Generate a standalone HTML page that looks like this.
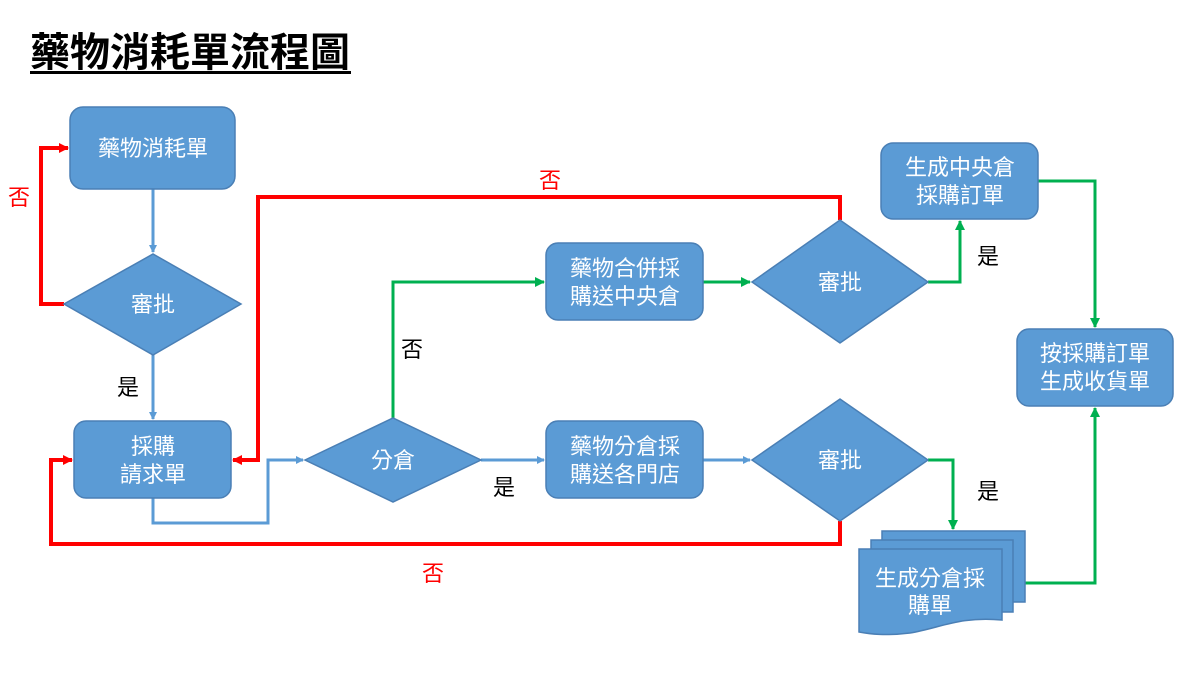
<!DOCTYPE html>
<html><head><meta charset="utf-8"><style>
body{margin:0;background:#fff}
svg text{font-family:"Liberation Sans","Noto Sans CJK TC",sans-serif}
</style></head><body>
<svg width="1200" height="679" viewBox="0 0 1200 679" xmlns="http://www.w3.org/2000/svg">
<defs>
<marker id="ab" markerWidth="8" markerHeight="8" refX="7" refY="4" orient="auto" markerUnits="userSpaceOnUse" viewBox="0 0 8 8"><path d="M0,0 L8,4 L0,8z" fill="#5b9bd5"/></marker>
<marker id="ar" markerWidth="10" markerHeight="10" refX="9" refY="5" orient="auto" markerUnits="userSpaceOnUse" viewBox="0 0 10 10"><path d="M0,0 L10,5 L0,10z" fill="#ff0000"/></marker>
<marker id="ag" markerWidth="10" markerHeight="10" refX="9" refY="5" orient="auto" markerUnits="userSpaceOnUse" viewBox="0 0 10 10"><path d="M0,0 L10,5 L0,10z" fill="#00b050"/></marker>
</defs>
<text x="30" y="66" font-size="40" font-weight="bold" fill="#000">藥物消耗單流程圖</text>
<rect x="30" y="71" width="321" height="3" fill="#000"/>

<g fill="none" stroke-width="3">
<path d="M153,189 V252" stroke="#5b9bd5" marker-end="url(#ab)"/>
<path d="M153,355 V419" stroke="#5b9bd5" marker-end="url(#ab)"/>
<path d="M153,498 V523 H268 V460 H303" stroke="#5b9bd5" marker-end="url(#ab)"/>
<path d="M481,460 H544" stroke="#5b9bd5" marker-end="url(#ab)"/>
<path d="M703,460 H750" stroke="#5b9bd5" marker-end="url(#ab)"/>
<path d="M64,304 H41 V148 H68" stroke="#ff0000" stroke-width="4" marker-end="url(#ar)"/>
<path d="M840,220 V197 H258 V460 H233" stroke="#ff0000" stroke-width="4" marker-end="url(#ar)"/>
<path d="M840,521 V544 H51 V460 H72" stroke="#ff0000" stroke-width="4" marker-end="url(#ar)"/>
<path d="M393,418 V282 H544" stroke="#00b050" marker-end="url(#ag)"/>
<path d="M703,282 H750" stroke="#00b050" marker-end="url(#ag)"/>
<path d="M928,282 H960 V221" stroke="#00b050" marker-end="url(#ag)"/>
<path d="M1038,181 H1095 V327" stroke="#00b050" marker-end="url(#ag)"/>
<path d="M928,460 H953 V529" stroke="#00b050" marker-end="url(#ag)"/>
<path d="M1025,583 H1095 V408" stroke="#00b050" marker-end="url(#ag)"/>
</g>

<g fill="#5b9bd5" stroke="#4a7fb5" stroke-width="1.5">
<rect x="70" y="107" width="165" height="82" rx="13"/>
<rect x="74" y="421" width="157" height="77" rx="12"/>
<rect x="546" y="243" width="157" height="77" rx="12"/>
<rect x="546" y="421" width="157" height="77" rx="12"/>
<rect x="881" y="143" width="157" height="76" rx="12"/>
<rect x="1017" y="329" width="156" height="77" rx="12"/>
<polygon points="64,304 153,254 241,304 153,355"/>
<polygon points="305,460 393,418 481,460 393,502"/>
<polygon points="752,282 840,220 928,282 840,343"/>
<polygon points="752,460 840,399 928,460 840,521"/>
<rect x="882" y="531" width="143" height="71"/>
<rect x="871" y="540" width="142" height="72"/>
<path d="M859,549 H1002 V620 C960,616 940,628 910,633 C885,636 870,634 859,632 Z"/>
</g>

<g fill="#fff" font-size="22" text-anchor="middle">
<text x="153" y="156">藥物消耗單</text>
<text x="153" y="312">審批</text>
<text x="153" y="454">採購</text>
<text x="153" y="482">請求單</text>
<text x="393" y="468">分倉</text>
<text x="625" y="276">藥物合併採</text>
<text x="625" y="304">購送中央倉</text>
<text x="625" y="454">藥物分倉採</text>
<text x="625" y="482">購送各門店</text>
<text x="840" y="290">審批</text>
<text x="840" y="468">審批</text>
<text x="960" y="175">生成中央倉</text>
<text x="960" y="203">採購訂單</text>
<text x="1095" y="361">按採購訂單</text>
<text x="1095" y="389">生成收貨單</text>
<text x="930" y="586">生成分倉採</text>
<text x="930" y="613">購單</text>
</g>

<g font-size="22" text-anchor="middle">
<text x="19" y="205" fill="#ff0000">否</text>
<text x="550" y="188" fill="#ff0000">否</text>
<text x="433" y="581" fill="#ff0000">否</text>
<text x="128" y="395" fill="#000">是</text>
<text x="412" y="357" fill="#000">否</text>
<text x="504" y="495" fill="#000">是</text>
<text x="988" y="264" fill="#000">是</text>
<text x="988" y="499" fill="#000">是</text>
</g>
</svg>
</body></html>
